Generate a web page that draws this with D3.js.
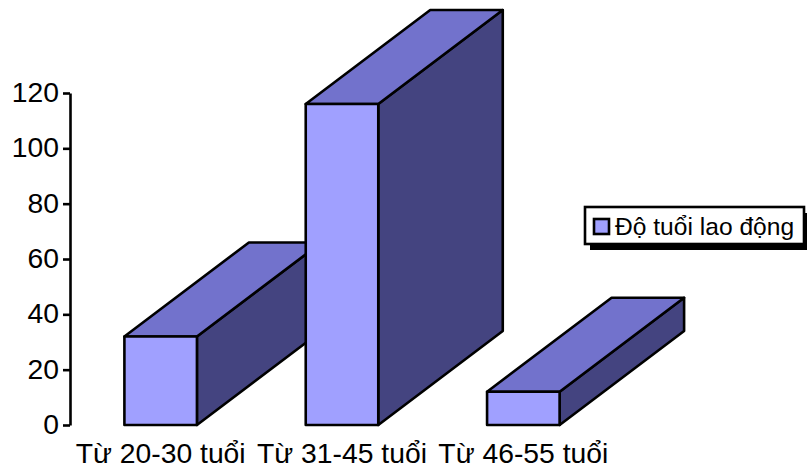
<!DOCTYPE html>
<html>
<head>
  <meta charset="utf-8">
  <title>Độ tuổi lao động</title>
  <script type="text/javascript" src="https://d3js.org/d3.v7.min.js"></script>
  <style>
    html, body { margin: 0; padding: 0; background: #fff; }
    svg { display: block; }
    text { font-family: "Liberation Sans", Arial, sans-serif; fill: #000; }
  </style>
</head>
<body>
  <div class="graph"></div>
<script>
  /* Data */
  const categories = ['Từ 20-30 tuổi', 'Từ 31-45 tuổi', 'Từ 46-55 tuổi'];
  const values = [32, 116, 12];
  const yTicks = [0, 20, 40, 60, 80, 100, 120];
  const seriesName = 'Độ tuổi lao động';

  const width = 807;
  const height = 467;
  const depth = { x: 124.5, y: -94 };
  const colors = { front: '#a0a0ff', top: '#7272cc', side: '#444480' };
  const lineW = 2.6;

  const xScale = d3.scaleBand()
    .domain(categories)
    .range([70, 614])
    .paddingInner(0.6)
    .paddingOuter(0.3);

  const yScale = d3.scaleLinear()
    .domain([0, 120])
    .range([425, 93]);

  const svg = d3.select('.graph')
    .append('svg')
    .attr('width', width)
    .attr('height', height);

  /* Axes */
  const yAxis = d3.axisLeft(yScale)
    .tickValues(yTicks)
    .tickSize(7)
    .tickSizeOuter(0)
    .tickPadding(4);

  const yG = svg.append('g')
    .attr('transform', 'translate(70,0)')
    .call(yAxis);
  yG.selectAll('path, line').attr('stroke', '#000').attr('stroke-width', lineW);
  yG.selectAll('text').attr('font-size', 28.3).attr('font-family', null).attr('dy', '0.3em');

  const xAxis = d3.axisBottom(xScale)
    .tickSize(0)
    .tickPadding(18);

  const xG = svg.append('g')
    .attr('transform', 'translate(0,425)')
    .call(xAxis);
  xG.select('.domain').remove();
  xG.selectAll('text').attr('font-size', 28.3).attr('font-family', null);

  /* Bars, each one a front, top and side face */
  const rows = categories.map((c, i) => ({ name: c, value: values[i] }));

  const bars = svg.selectAll('.bars')
    .data(rows)
    .enter()
    .append('g')
    .attr('class', 'bars')
    .attr('stroke', '#000')
    .attr('stroke-width', lineW)
    .attr('stroke-linejoin', 'round');

  const sidePts = d => {
    const x1 = xScale(d.name) + xScale.bandwidth();
    const y0 = yScale(0), y1 = yScale(d.value);
    return [[x1, y1], [x1 + depth.x, y1 + depth.y], [x1 + depth.x, y0 + depth.y], [x1, y0]];
  };
  const topPts = d => {
    const x0 = xScale(d.name), x1 = x0 + xScale.bandwidth();
    const y1 = yScale(d.value);
    return [[x0, y1], [x0 + depth.x, y1 + depth.y], [x1 + depth.x, y1 + depth.y], [x1, y1]];
  };

  bars.append('polygon')
    .attr('points', d => sidePts(d).join(' '))
    .attr('fill', colors.side);

  bars.append('polygon')
    .attr('points', d => topPts(d).join(' '))
    .attr('fill', colors.top);

  bars.append('rect')
    .attr('x', d => xScale(d.name))
    .attr('y', d => yScale(d.value))
    .attr('width', xScale.bandwidth())
    .attr('height', d => yScale(0) - yScale(d.value))
    .attr('fill', colors.front);

  /* Legend */
  const legend = svg.append('g').attr('transform', 'translate(585,207)');

  legend.append('rect')
    .attr('x', 5).attr('y', 6)
    .attr('width', 217).attr('height', 37)
    .attr('fill', '#000');

  legend.append('rect')
    .attr('width', 219).attr('height', 37)
    .attr('fill', '#fff')
    .attr('stroke', '#000')
    .attr('stroke-width', lineW);

  legend.append('rect')
    .attr('x', 9).attr('y', 12)
    .attr('width', 15).attr('height', 15)
    .attr('fill', colors.front)
    .attr('stroke', '#000')
    .attr('stroke-width', lineW);

  legend.append('text')
    .attr('x', 30).attr('y', 28)
    .attr('font-size', 24.6)
    .text(seriesName);
</script>
</body>
</html>
